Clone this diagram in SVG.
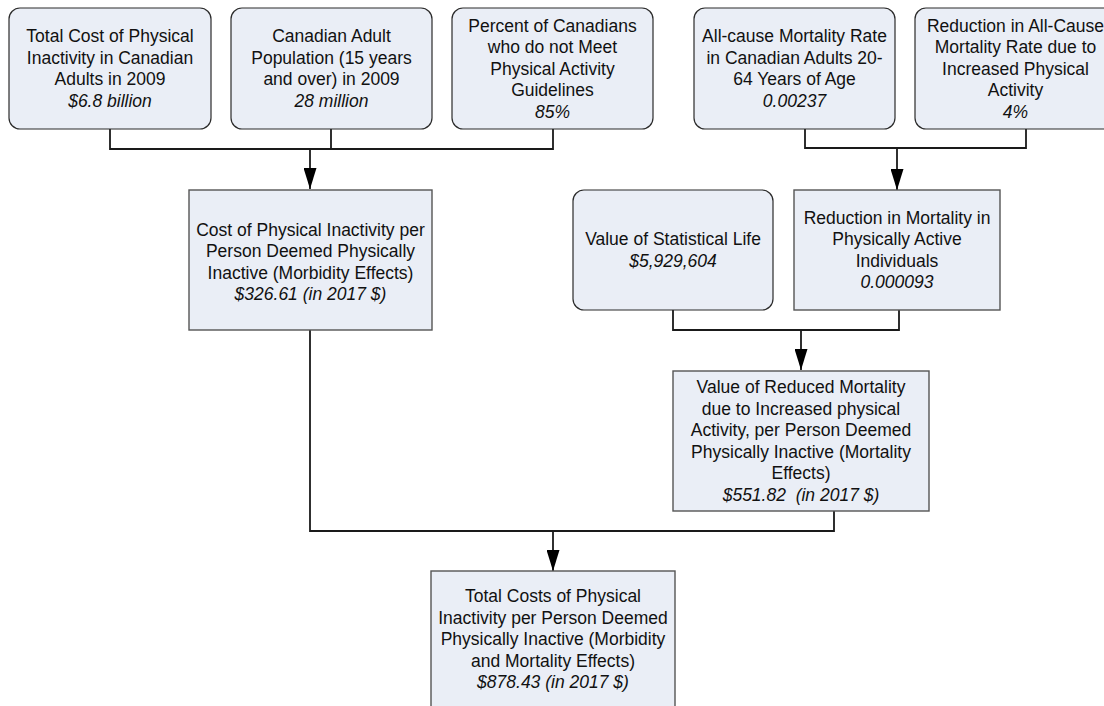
<svg xmlns="http://www.w3.org/2000/svg" width="1104" height="706" viewBox="0 0 1104 706">
<defs>
<style>
.rbox{fill:#EAEEF6;stroke:#2b2b2b;stroke-width:1.2}
.sbox{fill:#EAEEF6;stroke:#555;stroke-width:1.4}
.t{font-family:"Liberation Sans",Arial,sans-serif;font-size:17.5px;fill:#111;text-anchor:middle}
.i{font-style:italic}
.c{fill:none;stroke:#1a1a1a;stroke-width:1.8}
</style>
<marker id="ah" viewBox="0 0 21 13" markerWidth="21" markerHeight="13" refX="21" refY="6.5" orient="auto" markerUnits="userSpaceOnUse">
<path d="M0,0 L21,6.5 L0,13 Z" fill="#000"/>
</marker>
</defs>
<rect width="1104" height="706" fill="#fff"/>

<g id="connectors">
<path class="c" d="M110,129 V149 H553 V129 M331,129 V149"/>
<path class="c" d="M310,149 V189" marker-end="url(#ah)"/>
<path class="c" d="M805,129 V148 H1026 V129"/>
<path class="c" d="M897,148 V190" marker-end="url(#ah)"/>
<path class="c" d="M673,310 V330 H899 V310"/>
<path class="c" d="M801,330 V370" marker-end="url(#ah)"/>
<path class="c" d="M310,330 V531 H834 V511"/>
<path class="c" d="M553,531 V571" marker-end="url(#ah)"/>
</g>

<g id="total-cost-2009">
<rect class="rbox" x="9" y="8" width="202" height="121" rx="11"/>
<text class="t" x="110" y="42.3">Total Cost of Physical</text>
<text class="t" x="110" y="63.8">Inactivity in Canadian</text>
<text class="t" x="110" y="85.3">Adults in 2009</text>
<text class="t i" x="110" y="106.8">$6.8 billion</text>
</g>

<g id="adult-population">
<rect class="rbox" x="231" y="8" width="201" height="121" rx="11"/>
<text class="t" x="331.5" y="42.3">Canadian Adult</text>
<text class="t" x="331.5" y="63.8">Population (15 years</text>
<text class="t" x="331.5" y="85.3">and over) in 2009</text>
<text class="t i" x="331.5" y="106.8">28 million</text>
</g>

<g id="percent-inactive">
<rect class="rbox" x="452" y="8" width="201" height="121" rx="11"/>
<text class="t" x="552.5" y="31.6">Percent of Canadians</text>
<text class="t" x="552.5" y="53.1">who do not Meet</text>
<text class="t" x="552.5" y="74.6">Physical Activity</text>
<text class="t" x="552.5" y="96.1">Guidelines</text>
<text class="t i" x="552.5" y="117.6">85%</text>
</g>

<g id="mortality-rate">
<rect class="rbox" x="694" y="8" width="201" height="121" rx="11"/>
<text class="t" x="794.5" y="42.3">All-cause Mortality Rate</text>
<text class="t" x="794.5" y="63.8">in Canadian Adults 20-</text>
<text class="t" x="794.5" y="85.3">64 Years of Age</text>
<text class="t i" x="794.5" y="106.8">0.00237</text>
</g>

<g id="mortality-reduction-rate">
<rect class="rbox" x="915" y="8" width="201" height="121" rx="11"/>
<text class="t" x="1015.5" y="31.6">Reduction in All-Cause</text>
<text class="t" x="1015.5" y="53.1">Mortality Rate due to</text>
<text class="t" x="1015.5" y="74.6">Increased Physical</text>
<text class="t" x="1015.5" y="96.1">Activity</text>
<text class="t i" x="1015.5" y="117.6">4%</text>
</g>

<g id="morbidity-cost">
<rect class="sbox" x="189" y="190" width="243" height="140"/>
<text class="t" x="310.5" y="235.5">Cost of Physical Inactivity per</text>
<text class="t" x="310.5" y="257">Person Deemed Physically</text>
<text class="t" x="310.5" y="278.5">Inactive (Morbidity Effects)</text>
<text class="t i" x="310.5" y="300">$326.61 (in 2017 $)</text>
</g>

<g id="statistical-life">
<rect class="rbox" x="573" y="190" width="200" height="120" rx="11"/>
<text class="t" x="673" y="245.4">Value of Statistical Life</text>
<text class="t i" x="673" y="266.9">$5,929,604</text>
</g>

<g id="mortality-reduction">
<rect class="sbox" x="794" y="190" width="206" height="120"/>
<text class="t" x="897" y="223.9">Reduction in Mortality in</text>
<text class="t" x="897" y="245.4">Physically Active</text>
<text class="t" x="897" y="266.9">Individuals</text>
<text class="t i" x="897" y="288.4">0.000093</text>
</g>

<g id="mortality-value">
<rect class="sbox" x="673" y="371" width="256" height="140"/>
<text class="t" x="801" y="393.4">Value of Reduced Mortality</text>
<text class="t" x="801" y="414.9">due to Increased physical</text>
<text class="t" x="801" y="436.4">Activity, per Person Deemed</text>
<text class="t" x="801" y="457.9">Physically Inactive (Mortality</text>
<text class="t" x="801" y="479.4">Effects)</text>
<text class="t i" x="801" y="500.9" xml:space="preserve">$551.82  (in 2017 $)</text>
</g>

<g id="total-costs">
<rect class="sbox" x="431" y="571" width="244" height="150"/>
<text class="t" x="553" y="602">Total Costs of Physical</text>
<text class="t" x="553" y="623.5">Inactivity per Person Deemed</text>
<text class="t" x="553" y="645">Physically Inactive (Morbidity</text>
<text class="t" x="553" y="666.5">and Mortality Effects)</text>
<text class="t i" x="553" y="688">$878.43 (in 2017 $)</text>
</g>
</svg>
